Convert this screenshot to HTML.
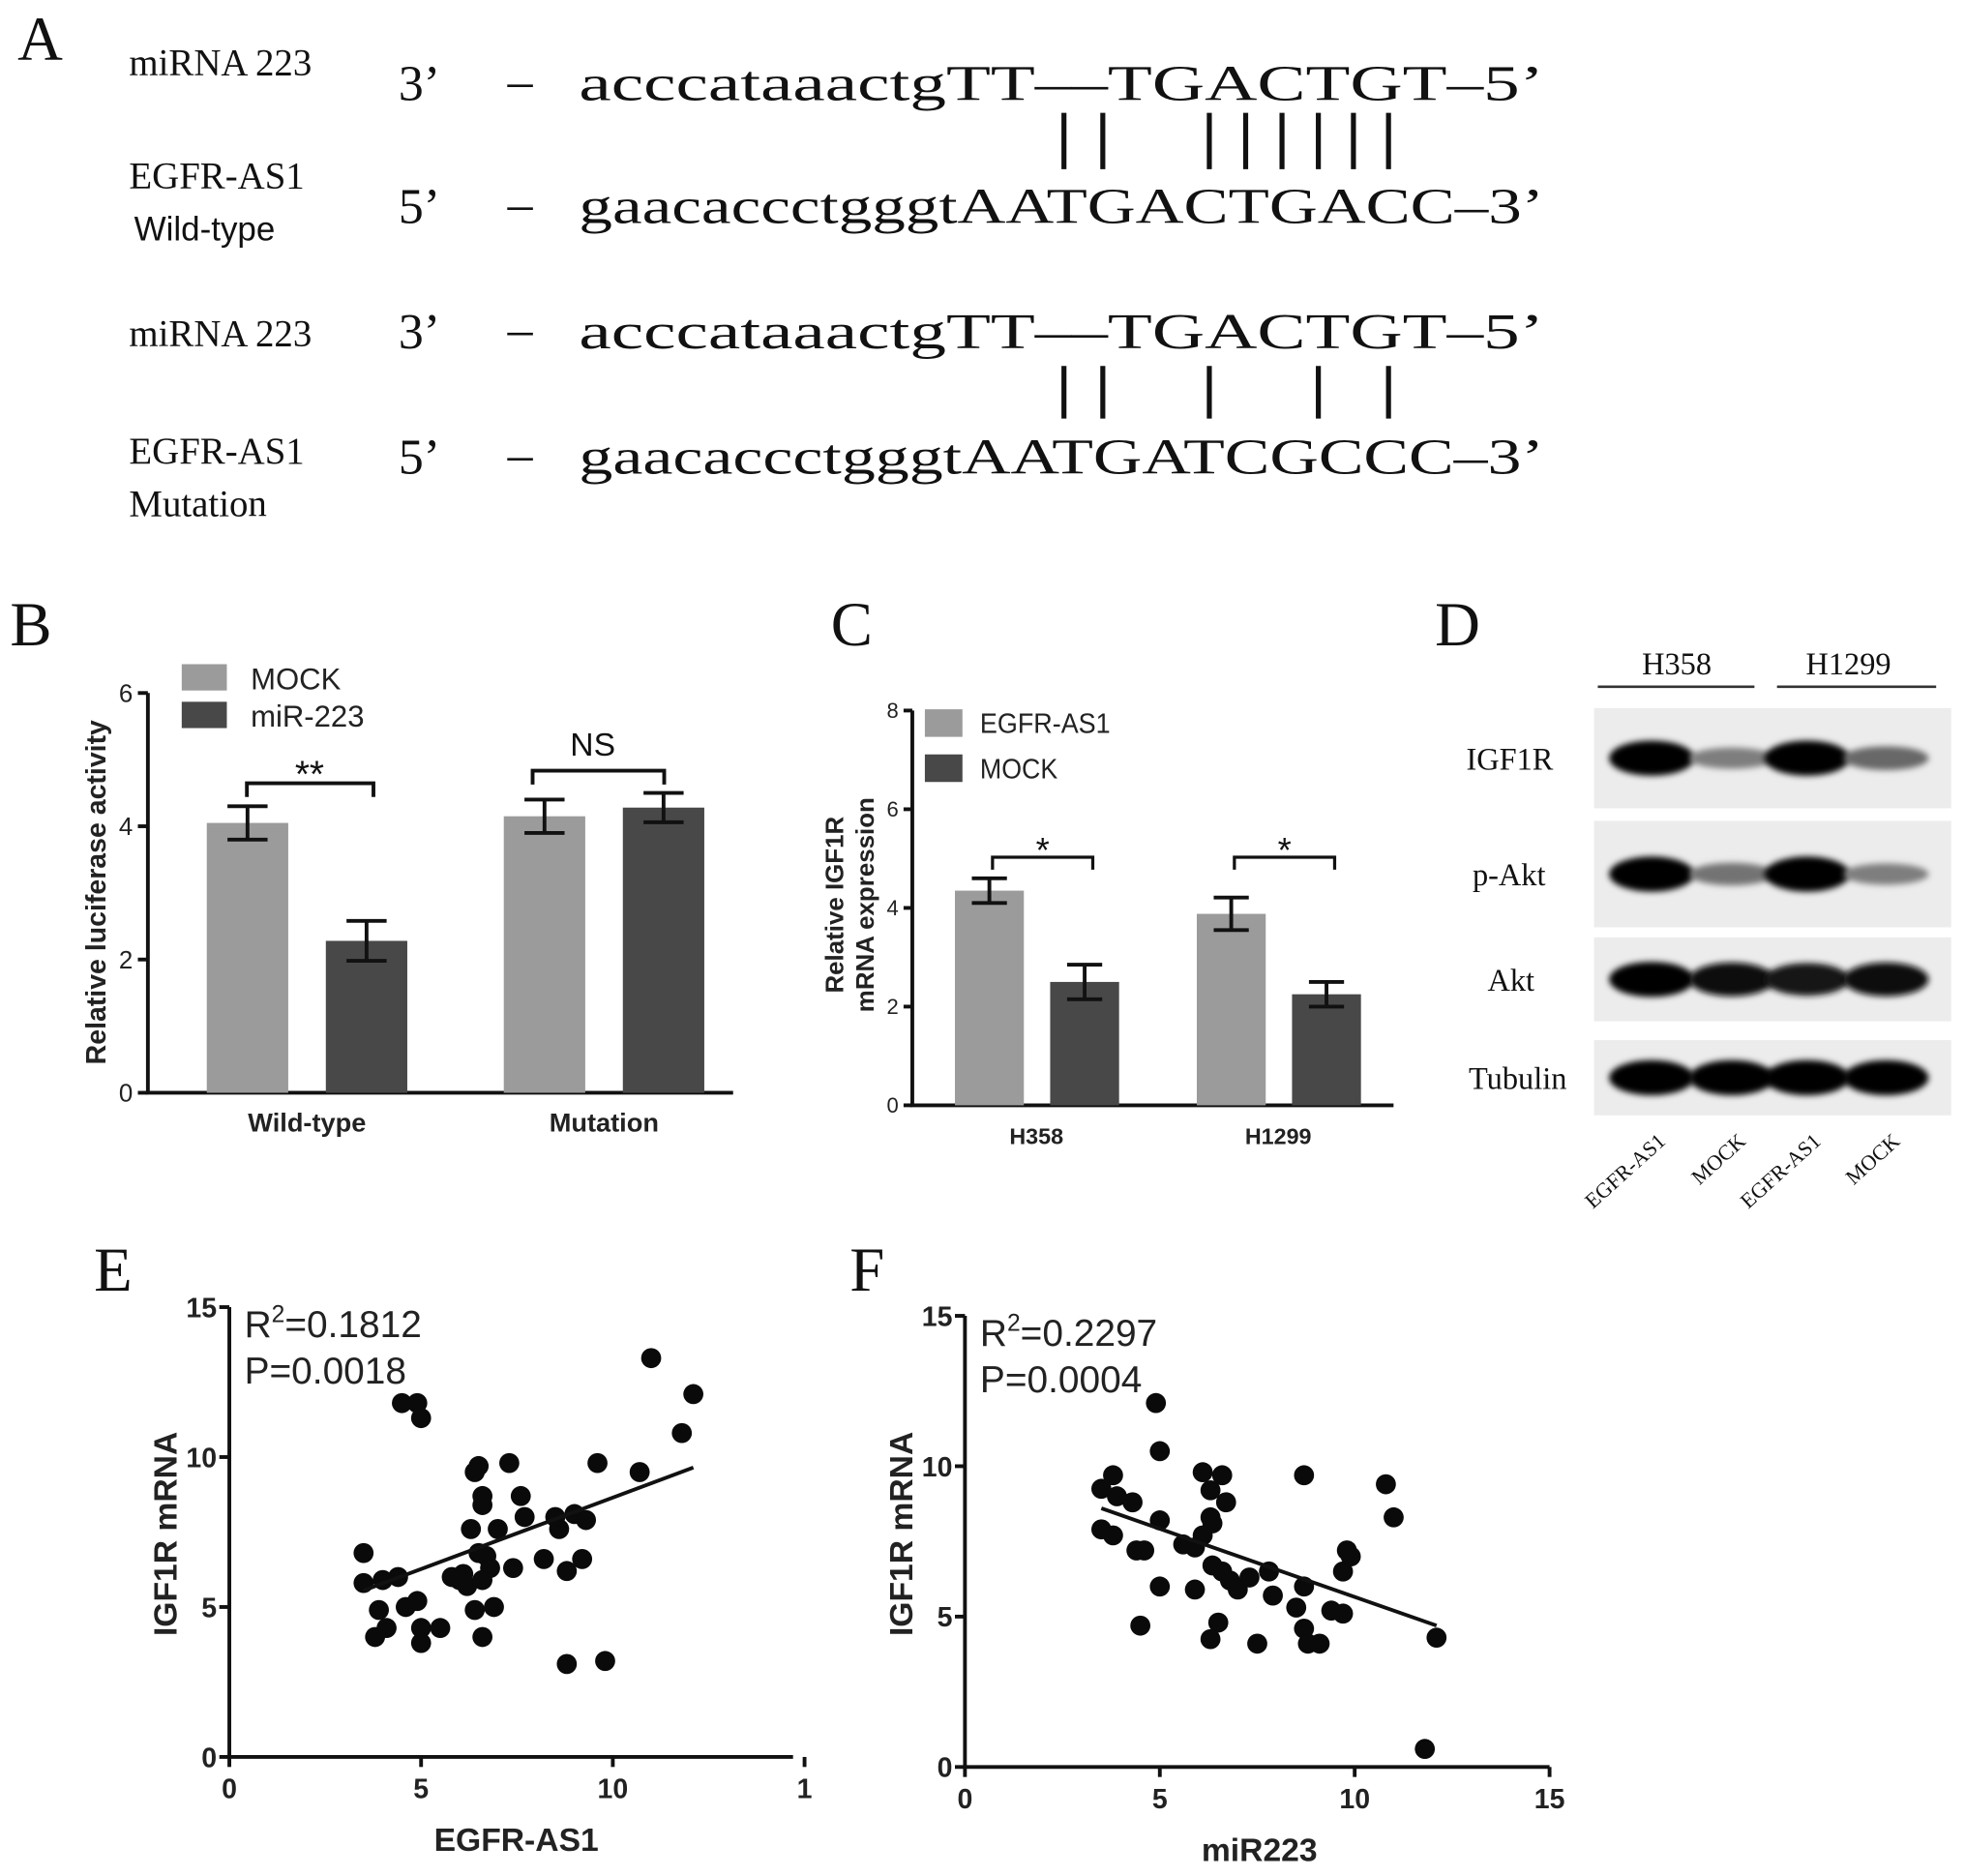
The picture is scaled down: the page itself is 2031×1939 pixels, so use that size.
<!DOCTYPE html>
<html><head><meta charset="utf-8"><style>
html,body{margin:0;padding:0;background:#fff}
svg{display:block}
.serif{font-family:"Liberation Serif",serif}
.sans{font-family:"Liberation Sans",sans-serif}
</style></head><body>
<svg id="fig" width="2031" height="1939" viewBox="0 0 1568 1497" xmlns="http://www.w3.org/2000/svg">
<defs><filter id="blur" x="-20%" y="-50%" width="140%" height="200%"><feGaussianBlur stdDeviation="2.5"/></filter></defs>
<!-- Panel A -->
<g class="serif" fill="#111">
<text x="14" y="48" font-size="50">A</text>
<text x="103" y="60" font-size="30">miRNA 223</text>
<text x="318" y="80" font-size="40">3’</text>
<text x="405" y="78" font-size="40">–</text>
<text x="462" y="80" font-size="40" textLength="770" lengthAdjust="spacingAndGlyphs">acccataaactgTT––TGACTGT–5’</text>
<text x="103" y="150" font-size="30">EGFR-AS1</text>
<text x="107" y="192" font-size="27" class="sans" font-family="Liberation Sans,sans-serif">Wild-type</text>
<text x="318" y="178" font-size="40">5’</text>
<text x="405" y="176" font-size="40">–</text>
<text x="462" y="178" font-size="40" textLength="770" lengthAdjust="spacingAndGlyphs">gaacaccctgggtAATGACTGACC–3’</text>
<text x="103" y="276" font-size="30">miRNA 223</text>
<text x="318" y="278" font-size="40">3’</text>
<text x="405" y="276" font-size="40">–</text>
<text x="462" y="278" font-size="40" textLength="770" lengthAdjust="spacingAndGlyphs">acccataaactgTT––TGACTGT–5’</text>
<text x="103" y="370" font-size="30">EGFR-AS1</text>
<text x="103" y="412" font-size="30">Mutation</text>
<text x="318" y="378" font-size="40">5’</text>
<text x="405" y="376" font-size="40">–</text>
<text x="462" y="378" font-size="40" textLength="770" lengthAdjust="spacingAndGlyphs">gaacaccctgggtAATGATCGCCC–3’</text>
<g stroke="#111" stroke-width="4">
<line x1="849" y1="90" x2="849" y2="135"/><line x1="880" y1="90" x2="880" y2="135"/><line x1="965" y1="90" x2="965" y2="135"/><line x1="994" y1="90" x2="994" y2="135"/><line x1="1023" y1="90" x2="1023" y2="135"/><line x1="1052" y1="90" x2="1052" y2="135"/><line x1="1080" y1="90" x2="1080" y2="135"/><line x1="1108" y1="90" x2="1108" y2="135"/>
</g>
<g stroke="#111" stroke-width="4">
<line x1="849" y1="292" x2="849" y2="334"/><line x1="880" y1="292" x2="880" y2="334"/><line x1="965" y1="292" x2="965" y2="334"/><line x1="1052" y1="292" x2="1052" y2="334"/><line x1="1108" y1="292" x2="1108" y2="334"/>
</g>
</g>
<g id="pb"></g>
<g id="pc"></g>
<g id="pd"></g>
<g id="pe"></g>
<g id="pf"></g>
</svg>
<script>
const NS="http://www.w3.org/2000/svg";
// Panel B data
const bGroups=["Wild-type","Mutation"];
const bSeries=["MOCK","miR-223"];
const bMock=[4.05,4.15];
const bMir=[2.28,4.28];
const bMockErr=[0.25,0.25];
const bMirErr=[0.3,0.22];
const bTicks=[0,2,4,6];
// Panel C data
const cGroups=["H358","H1299"];
const cSeries=["EGFR-AS1","MOCK"];
const cEgfr=[4.35,3.88];
const cMock=[2.5,2.25];
const cEgfrErr=[0.25,0.33];
const cMockErr=[0.35,0.25];
const cTicks=[0,2,4,6,8];
// Panel D data (band intensities 0..1)
const dRows=["IGF1R","p-Akt","Akt","Tubulin"];
const dLanes=["EGFR-AS1","MOCK","EGFR-AS1","MOCK"];
const dIGF1R=[1,0.45,1,0.55];
const dPAkt=[1,0.5,1,0.45];
const dAkt=[1,0.95,0.9,0.95];
const dTub=[1,1,1,1];
// Panel E data
const eX=[3.5,3.5,3.9,3.8,4.1,4.4,4.6,4.9,5.0,5.0,5.5,4.5,4.9,5.0,6.4,6.5,6.6,6.6,7.3,7.6,7.7,8.5,8.6,9.0,9.3,9.6,11.0,11.8,12.1,10.7,8.2,8.8,9.2,8.8,9.8,6.3,6.1,6.2,6.5,6.7,7.0,6.8,6.6,6.4,6.9,6.6,7.4,5.8,6.0,4.0];
const eY=[6.8,5.8,4.9,4.0,4.3,6.0,5.0,5.2,4.3,3.8,4.3,11.8,11.8,11.3,9.5,9.7,8.7,8.4,9.8,8.7,8.0,8.0,7.6,8.1,7.9,9.8,13.3,10.8,12.1,9.5,6.6,6.2,6.6,3.1,3.2,7.6,6.1,5.7,6.8,6.7,7.6,6.3,5.9,4.9,5.0,4.0,6.3,6.0,5.9,5.9];
const eFitX=[3.5,12.1];
const eFitY=[5.55,9.65];
const eXTicks=[0,5,10,15];
const eXTickLabels=["0","5","10","1"];
const eYTicks=[0,5,10,15];
// Panel F data
const fX=[3.5,3.8,3.5,3.8,3.9,4.3,4.4,4.6,4.5,4.9,5.0,5.0,5.0,5.6,5.9,6.1,6.3,6.6,6.7,6.3,6.35,6.35,6.6,6.8,7.0,6.5,6.3,7.3,7.5,7.8,7.9,8.5,8.7,8.7,8.7,8.8,9.1,9.4,9.7,9.7,9.8,9.9,10.8,11.0,11.8,12.1,6.1,5.9];
const fY=[9.25,9.7,7.9,7.7,9.0,8.8,7.2,7.2,4.7,12.1,10.5,8.2,6.0,7.4,7.3,9.8,9.2,9.7,8.8,8.3,8.1,6.7,6.5,6.2,5.9,4.8,4.25,6.3,4.1,6.5,5.7,5.3,9.7,6.0,4.6,4.1,4.1,5.2,5.1,6.5,7.2,7.0,9.4,8.3,0.6,4.3,7.7,5.9];
const fFitX=[3.5,12.1];
const fFitY=[8.6,4.7];
const fXTicks=[0,5,10,15];
const fXTickLabels=["0","5","10","15"];
const fYTicks=[0,5,10,15];

function mk(parent,tag,attrs,text){const e=document.createElementNS(NS,tag);for(const k in attrs)e.setAttribute(k,attrs[k]);if(text!==undefined)e.textContent=text;parent.appendChild(e);return e;}
const SANS="Liberation Sans, sans-serif", SERIF="Liberation Serif, serif";

// ---------- Panel B ----------
(function(){
const g=document.getElementById('pb');
const x0=118,y0=872,yTop=553,yMax=6;
const ys=v=>y0-(v/yMax)*(y0-yTop);
let t=mk(g,'text',{x:8,y:515,'font-size':50,'font-family':SERIF,fill:'#111'},'B');


let ax=mk(g,'path',{d:`M${x0} ${yTop}V${y0}H585`,stroke:'#111','stroke-width':3,fill:'none'});


bTicks.forEach(v=>{
 mk(g,'line',{x1:x0-8,x2:x0,y1:ys(v),y2:ys(v),stroke:'#111','stroke-width':3});
 const l=mk(g,'text',{x:x0-12,y:ys(v)+7,'font-size':20,'font-family':SANS,'text-anchor':'end',fill:'#222'},String(v));
 
 
});
const groupStart=[165,402],bw=65,gap=30;
const series=[bMock,bMir],errs=[bMockErr,bMirErr],cols=['#9b9b9b','#484848'];
bGroups.forEach((name,i)=>{
 series.forEach((s,j)=>{
  const x=groupStart[i]+j*(bw+gap);
  const r=mk(g,'rect',{x:x,y:ys(s[i]),width:bw,height:y0-ys(s[i]),fill:cols[j]});
  
  
  const cx=x+bw/2,e=errs[j][i];
  const eb=mk(g,'path',{d:`M${cx-16} ${ys(s[i]+e)}H${cx+16}M${cx} ${ys(s[i]+e)}V${ys(s[i]-e)}M${cx-16} ${ys(s[i]-e)}H${cx+16}`,stroke:'#111','stroke-width':3,fill:'none'});
  
  
 });
 const xl=mk(g,'text',{x:groupStart[i]+80,y:903,'font-size':21,'font-weight':'bold','font-family':SANS,'text-anchor':'middle',fill:'#222'},name);
 
 
});
const br1=mk(g,'path',{d:'M197 636V625H298V636',stroke:'#111','stroke-width':3,fill:'none'});


const s1=mk(g,'text',{x:247,y:628,'font-size':30,'font-family':SANS,'text-anchor':'middle',fill:'#111'},'**');


const br2=mk(g,'path',{d:'M425 626V615H530V626',stroke:'#111','stroke-width':3,fill:'none'});


const s2=mk(g,'text',{x:473,y:603,'font-size':26,'font-family':SANS,'text-anchor':'middle',fill:'#111'},'NS');


bSeries.forEach((n,j)=>{
 const lb=mk(g,'rect',{x:145,y:530+j*30,width:36,height:21,fill:cols[j]});
 
 
 const lt=mk(g,'text',{x:200,y:550+j*30,'font-size':24,'font-family':SANS,fill:'#222'},n);
 
 
});
const yt=mk(g,'text',{x:0,y:0,'font-size':22,'font-weight':'bold','font-family':SANS,'text-anchor':'middle',fill:'#222',transform:'translate(84,712) rotate(-90)'},'Relative luciferase activity');


})();

// ---------- Panel C ----------
(function(){
const g=document.getElementById('pc');
const x0=728,y0=882,yTop=567,yMax=8;
const ys=v=>y0-(v/yMax)*(y0-yTop);
let t=mk(g,'text',{x:663,y:515,'font-size':50,'font-family':SERIF,fill:'#111'},'C');


const ax=mk(g,'path',{d:`M${x0} ${yTop}V${y0}H1112`,stroke:'#111','stroke-width':3,fill:'none'});


cTicks.forEach(v=>{
 mk(g,'line',{x1:x0-7,x2:x0,y1:ys(v),y2:ys(v),stroke:'#111','stroke-width':3});
 const l=mk(g,'text',{x:x0-11,y:ys(v)+6,'font-size':17,'font-family':SANS,'text-anchor':'end',fill:'#222'},String(v));
 
 
});
const groupStart=[762,955],bw=55,gap=21;
const series=[cEgfr,cMock],errs=[cEgfrErr,cMockErr],cols=['#9b9b9b','#484848'];
cGroups.forEach((name,i)=>{
 series.forEach((s,j)=>{
  const x=groupStart[i]+j*(bw+gap);
  const r=mk(g,'rect',{x:x,y:ys(s[i]),width:bw,height:y0-ys(s[i]),fill:cols[j]});
  
  
  const cx=x+bw/2,e=errs[j][i];
  const eb=mk(g,'path',{d:`M${cx-14} ${ys(s[i]+e)}H${cx+14}M${cx} ${ys(s[i]+e)}V${ys(s[i]-e)}M${cx-14} ${ys(s[i]-e)}H${cx+14}`,stroke:'#111','stroke-width':3,fill:'none'});
  
  
 });
 const xl=mk(g,'text',{x:groupStart[i]+65,y:913,'font-size':18,'font-weight':'bold','font-family':SANS,'text-anchor':'middle',fill:'#222'},name);
 
 
 const b=mk(g,'path',{d:`M${groupStart[i]+30} 694V684H${groupStart[i]+110}V694`,stroke:'#111','stroke-width':2.5,fill:'none'});
 
 
 const st=mk(g,'text',{x:groupStart[i]+70,y:688,'font-size':28,'font-family':SANS,'text-anchor':'middle',fill:'#111'},'*');
 
 
});
cSeries.forEach((n,j)=>{
 const lb=mk(g,'rect',{x:738,y:566+j*36,width:30,height:22,fill:cols[j]});
 
 
 const lt=mk(g,'text',{x:782,y:585+j*36,'font-size':22,'font-family':SANS,fill:'#222',textLength:n.length>5?104:62,lengthAdjust:'spacingAndGlyphs'},n);
 
 
});
const y1=mk(g,'text',{x:0,y:0,'font-size':20,'font-weight':'bold','font-family':SANS,'text-anchor':'middle',fill:'#222',transform:'translate(673,722) rotate(-90)'},'Relative IGF1R');


const y2=mk(g,'text',{x:0,y:0,'font-size':20,'font-weight':'bold','font-family':SANS,'text-anchor':'middle',fill:'#222',transform:'translate(697,722) rotate(-90)'},'mRNA expression');


})();

// ---------- Panel D ----------
(function(){
const g=document.getElementById('pd');
let t=mk(g,'text',{x:1145,y:515,'font-size':50,'font-family':SERIF,fill:'#111'},'D');


[['H358',1338,1275,1400],['H1299',1475,1418,1545]].forEach(h=>{
 const tx=mk(g,'text',{x:h[1],y:538,'font-size':25,'font-family':SERIF,'text-anchor':'middle',fill:'#111'},h[0]);
 
 
 mk(g,'line',{x1:h[2],x2:h[3],y1:548,y2:548,stroke:'#333','stroke-width':2});
});
const rowBox=[[565,645],[655,740],[748,815],[830,890]];
const rowLabelX=[1170,1175,1187,1172];
const data=[dIGF1R,dPAkt,dAkt,dTub];
const laneX=[1318,1382,1442,1505];
dRows.forEach((r,i)=>{
 const bg=mk(g,'rect',{x:1272,y:rowBox[i][0],width:285,height:rowBox[i][1]-rowBox[i][0],fill:'#ececec'});
 
 
 const cy=(rowBox[i][0]+rowBox[i][1])/2;
 const lab=mk(g,'text',{x:rowLabelX[i],y:cy+9,'font-size':25,'font-family':SERIF,fill:'#111'},r);
 
 
 data[i].forEach((v,k)=>{
  const shade=Math.round(255*(1-v)*0.9);
  const e=mk(g,'ellipse',{cx:laneX[k],cy:cy,rx:34,ry:4+10*v,fill:`rgb(${shade},${shade},${shade})`,filter:'url(#blur)'});
  
  
 });
});
dLanes.forEach((n,k)=>{
 const tx=mk(g,'text',{x:0,y:0,'font-size':17,'font-family':SERIF,'text-anchor':'end',fill:'#111',transform:`translate(${laneX[k]+12},912) rotate(-42)`},n);
 
 
});
})();

// ---------- Scatter panels ----------
function scatter(gid,letter,lx,opt){
 const g=document.getElementById(gid);
 const xs=v=>opt.x0+v*opt.xu, ys=v=>opt.y0-v*opt.yu;
 let t=mk(g,'text',{x:lx,y:1030,'font-size':50,'font-family':SERIF,fill:'#111'},letter);
 
 
 const ax=mk(g,'path',{d:`M${opt.x0} ${ys(15)}V${opt.y0}H${xs(opt.xEnd)}`,stroke:'#111','stroke-width':3,fill:'none'});
 
 
 opt.yTicks.forEach(v=>{
  mk(g,'line',{x1:opt.x0-8,x2:opt.x0,y1:ys(v),y2:ys(v),stroke:'#111','stroke-width':3});
  const l=mk(g,'text',{x:opt.x0-10,y:ys(v)+8,'font-size':22,'font-weight':'bold','font-family':SANS,'text-anchor':'end',fill:'#222'},String(v));
  
  
 });
 opt.xTicks.forEach((v,i)=>{
  mk(g,'line',{x1:xs(v),x2:xs(v),y1:opt.y0,y2:opt.y0+8,stroke:'#111','stroke-width':3});
  const l=mk(g,'text',{x:xs(v),y:opt.y0+33,'font-size':22,'font-weight':'bold','font-family':SANS,'text-anchor':'middle',fill:'#222'},opt.xLabels[i]);
  
  
 });
 opt.px.forEach((v,i)=>{
  const c=mk(g,'circle',{cx:xs(v),cy:ys(opt.py[i]),r:8,fill:'#0a0a0a'});
  
  
 });
 const fl=mk(g,'line',{x1:xs(opt.fx[0]),y1:ys(opt.fy[0]),x2:xs(opt.fx[1]),y2:ys(opt.fy[1]),stroke:'#111','stroke-width':3});
 
 
 const r2=mk(g,'text',{x:opt.x0+12,y:ys(15)+24,'font-size':30,'font-family':SANS,fill:'#222'});
 
 
 mk(r2,'tspan',{},'R');mk(r2,'tspan',{'font-size':19,dy:-12},'2');mk(r2,'tspan',{dy:12},'='+opt.r2);
 const p=mk(g,'text',{x:opt.x0+12,y:ys(15)+61,'font-size':30,'font-family':SANS,fill:'#222'},'P='+opt.p);
 
 
 const yt=mk(g,'text',{x:0,y:0,'font-size':26,'font-weight':'bold','font-family':SANS,'text-anchor':'middle',fill:'#222',transform:`translate(${opt.x0-42},1224) rotate(-90)`},'IGF1R mRNA');
 
 
 const xt=mk(g,'text',{x:opt.xTitleX,y:opt.y0+75,'font-size':26,'font-weight':'bold','font-family':SANS,'text-anchor':'middle',fill:'#222'},opt.xTitle);
 
 
}
scatter('pe','E',75,{x0:183,y0:1402,xu:30.6,yu:23.93,xEnd:14.7,xTicks:eXTicks,xLabels:eXTickLabels,yTicks:eYTicks,px:eX,py:eY,fx:eFitX,fy:eFitY,r2:'0.1812',p:'0.0018',xTitle:'EGFR-AS1',xTitleX:412});
scatter('pf','F',678,{x0:770,y0:1410,xu:31.1,yu:24,xEnd:15,xTicks:fXTicks,xLabels:fXTickLabels,yTicks:fYTicks,px:fX,py:fY,fx:fFitX,fy:fFitY,r2:'0.2297',p:'0.0004',xTitle:'miR223',xTitleX:1005});
</script>
</body></html>
